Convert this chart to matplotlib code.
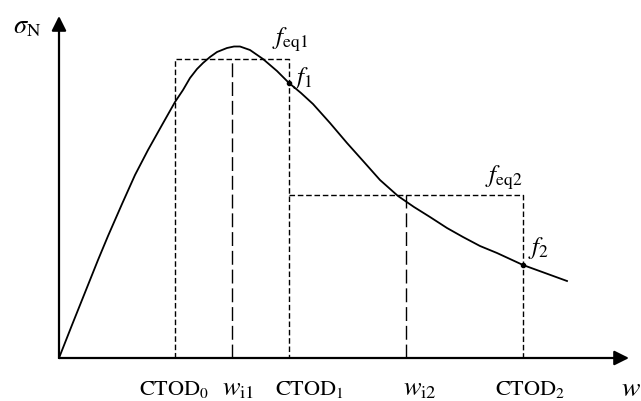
import matplotlib
matplotlib.use("Agg")
import matplotlib.pyplot as plt

plt.rcParams['mathtext.fontset'] = 'stix'
plt.rcParams['font.family'] = ['Liberation Serif', 'DejaVu Serif']

# Curve (crack opening w vs nominal stress sigma_N), schematic units
w_curve = [0, 13, 29, 39, 49, 63, 76, 89, 103, 116, 124, 131, 138, 144, 151, 158, 168,
           175, 181, 191, 204, 218, 230, 242, 254, 271, 288, 305, 321, 339, 355, 371,
           388, 404, 421, 438, 451, 464, 486, 508]
s_curve = [0, 33, 73, 98, 122, 154, 183, 208, 233, 256, 268, 280, 289, 295, 301, 306, 310,
           311.5, 311.5, 308, 299, 287, 275, 265, 254, 235, 215, 196, 178, 162, 151, 141,
           130, 121, 112, 105, 99, 93, 85, 77]

# Characteristic points
ctod = [116, 230, 464]          # CTOD0, CTOD1, CTOD2
w_i = [173, 347]                # w_i1, w_i2
f_eq = [299, 163]               # f_eq1, f_eq2
f_pts = [275, 93]               # f1 (at CTOD1), f2 (at CTOD2)

x_tick_labels = [r'$\mathrm{CTOD}_0$', r'$w_{\mathrm{i1}}$', r'$\mathrm{CTOD}_1$',
                 r'$w_{\mathrm{i2}}$', r'$\mathrm{CTOD}_2$']

fig = plt.figure(figsize=(6.41, 4.01), dpi=100)
ax = fig.add_axes([0, 0, 1, 1])
ax.set_xlim(-59, 582)
ax.set_ylim(-43, 358)
ax.axis('off')

# Axes with arrows
ax.annotate('', xy=(570, 0), xytext=(0, 0),
            arrowprops=dict(arrowstyle='-|>', lw=1.6, color='k', mutation_scale=22,
                            shrinkA=0, shrinkB=0))
ax.annotate('', xy=(0, 342), xytext=(0, 0),
            arrowprops=dict(arrowstyle='-|>', lw=1.6, color='k', mutation_scale=22,
                            shrinkA=0, shrinkB=0))

short = (4, 2)
long_ = (10, 3.5)

# Rectangle 1: CTOD0..CTOD1 at f_eq1
ax.plot([ctod[0], ctod[0], ctod[1], ctod[1]], [0, f_eq[0], f_eq[0], 0],
        color='k', lw=1.0, dashes=short)
ax.plot([w_i[0], w_i[0]], [0, f_eq[0]], color='k', lw=1.0, dashes=long_)

# Rectangle 2: CTOD1..CTOD2 at f_eq2
ax.plot([ctod[1], ctod[2], ctod[2]], [f_eq[1], f_eq[1], 0],
        color='k', lw=1.0, dashes=short)
ax.plot([w_i[1], w_i[1]], [0, f_eq[1]], color='k', lw=1.0, dashes=long_)

# Curve
ax.plot(w_curve, s_curve, color='k', lw=1.3, solid_joinstyle='round')

# Points f1, f2
ax.plot([ctod[1], ctod[2]], f_pts, 'o', color='k', ms=3)

# Labels
ax.text(-46, 330, r'$\sigma_{\mathrm{N}}$', fontsize=19, ha='left', va='center')
ax.text(213, 318, r'$f_{\mathrm{eq1}}$', fontsize=18, ha='left', va='center')
ax.text(234, 280, r'$f_{1}$', fontsize=18, ha='left', va='center')
ax.text(426, 180, r'$f_{\mathrm{eq2}}$', fontsize=18, ha='left', va='center')
ax.text(469, 110, r'$f_{2}$', fontsize=18, ha='left', va='center')

tick_x = [115, 179, 251, 361, 471]
for xx, lab in zip(tick_x, x_tick_labels):
    fs = 16 if 'CTOD' in lab else 19
    ax.text(xx, -32, lab, fontsize=fs, ha='center', va='center')
ax.text(562, -32, r'$w$', fontsize=20, ha='left', va='center')

fig.savefig('out.png', dpi=100)
